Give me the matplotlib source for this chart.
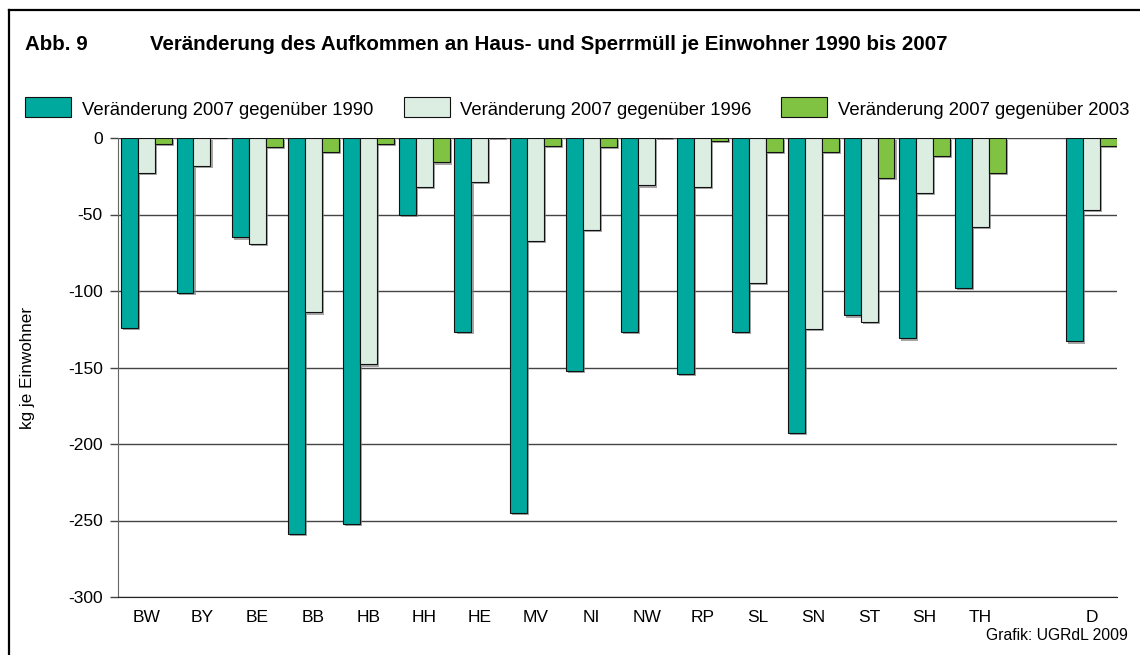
import numpy as np
import matplotlib
matplotlib.use("Agg")
import matplotlib.pyplot as plt
import matplotlib.patheffects as pe
from matplotlib.patches import Rectangle
from matplotlib.lines import Line2D

# Länder und Werte (kg je Einwohner)
laender = ["BW", "BY", "BE", "BB", "HB", "HH", "HE", "MV", "NI", "NW",
           "RP", "SL", "SN", "ST", "SH", "TH", "D"]
veraenderung_1990 = [-124, -101, -65, -259, -252, -50, -127, -245, -152, -127,
                     -154, -127, -193, -116, -131, -98, -133]
veraenderung_1996 = [-23, -18, -69, -114, -148, -32, -29, -67, -60, -31,
                     -32, -95, -125, -120, -36, -58, -47]
veraenderung_2003 = [-4, 0, -6, -9, -4, -16, 1, -5, -6, 1,
                     -2, -9, -9, -26, -12, -23, -5]
serien = ["Veränderung 2007 gegenüber 1990",
          "Veränderung 2007 gegenüber 1996",
          "Veränderung 2007 gegenüber 2003"]
farben = ["#00a99d", "#dcede2", "#80c342"]

plt.rcParams['font.family'] = ['Liberation Sans', 'DejaVu Sans']
plt.rcParams['axes.unicode_minus'] = False

W, H = 1140, 655
fig = plt.figure(figsize=(W / 100, H / 100), dpi=100)
ax = fig.add_axes([118 / W, 1 - 597 / H, (1117 - 118) / W, (597 - 138) / H])

# Positionen: D mit Lücke nach TH
pos = np.array(list(range(16)) + [17])
breite = 0.305
schatten = [pe.SimplePatchShadow(offset=(1.5, -1.5), shadow_rgbFace="#808080", alpha=0.7),
            pe.Normal()]

for i, (werte, farbe) in enumerate(zip([veraenderung_1990, veraenderung_1996, veraenderung_2003], farben)):
    bars = ax.bar(pos + (i - 1) * breite, werte, width=breite, color=farbe,
                  edgecolor="#111111", linewidth=0.8, zorder=3)
    for b in bars:
        b.set_path_effects(schatten)

ax.set_xlim(-0.51, 17.46)
ax.set_ylim(-300, 0)
ax.set_yticks(np.arange(-300, 1, 50))
ax.set_xticks(pos)
ax.set_xticklabels(laender)
ax.yaxis.grid(True, color="#444444", linewidth=1.0, zorder=0)
ax.set_axisbelow(True)
for s in ["top", "right"]:
    ax.spines[s].set_visible(False)
ax.spines["left"].set_color("#666666")
ax.spines["bottom"].set_color("#222222")
ax.tick_params(axis="y", length=6, width=1, color="#444444", pad=5, labelsize=12.5)
ax.tick_params(axis="x", length=0, pad=9, labelsize=12.5)
ax.set_ylabel("kg je Einwohner", fontsize=12.3, labelpad=12)
ax.yaxis.set_label_coords(-(118 - 35) / (1117 - 118), 0.5)

# Titel
fig.text(25 / W, 1 - 50 / H, "Abb. 9", fontsize=14.8, fontweight="bold", va="baseline")
fig.text(150 / W, 1 - 50 / H,
         "Veränderung des Aufkommen an Haus- und Sperrmüll je Einwohner 1990 bis 2007",
         fontsize=14.8, fontweight="bold", va="baseline")

# Legende
box_x = [25, 404, 781]
text_x = [82, 460, 838]
for bx, tx, farbe, name in zip(box_x, text_x, farben, serien):
    fig.patches.append(Rectangle((bx / W, 1 - 117 / H), 46 / W, 20 / H,
                                 transform=fig.transFigure, facecolor=farbe,
                                 edgecolor="#111111", linewidth=0.8))
    fig.text(tx / W, 1 - 115 / H, name, fontsize=13.3, va="baseline")

fig.text(1128 / W, 1 - 640 / H, "Grafik: UGRdL 2009", fontsize=11.3,
         ha="right", va="baseline")

# Rahmen
fig.lines.append(Line2D([9 / W, 1], [1 - 10 / H, 1 - 10 / H], transform=fig.transFigure,
                        color="black", linewidth=1.6))
fig.lines.append(Line2D([9 / W, 9 / W], [0, 1 - 10 / H], transform=fig.transFigure,
                        color="black", linewidth=1.6))

fig.savefig("out.png", dpi=100)
